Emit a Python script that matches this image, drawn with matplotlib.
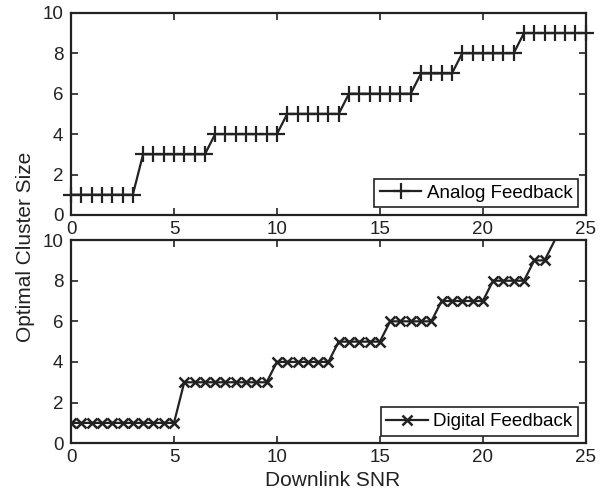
'''Optimal cluster size vs downlink SNR, analog and digital feedback.'''

import numpy as np
from matplotlib import pyplot as plt

plt.rcParams['font.family'] = ['Liberation Sans', 'DejaVu Sans']

snr_analog = np.arange(0, 25.5, 0.5)
size_analog = [1] * 7 + [3] * 7 + [4] * 7 + [5] * 6 + [6] * 7 + [7] * 4 + [8] * 6 + [9] * 7

snr_digital = np.arange(0, 24.0, 0.5)
size_digital = [1] * 11 + [3] * 9 + [4] * 6 + [5] * 5 + [6] * 5 + [7] * 5 + [8] * 4 + [9] * 2 + [10]

x_ticks = [0, 5, 10, 15, 20, 25]
y_ticks = [0, 2, 4, 6, 8, 10]


def style_axes(ax):
    ax.set_xlim(0, 25)
    ax.set_ylim(0, 10)
    ax.set_xticks(x_ticks)
    ax.set_yticks(y_ticks)
    ax.tick_params(direction='in', top=True, right=True, length=5, width=1.2,
                   labelsize=13.5, colors='#222222')
    ax.tick_params(axis='y', pad=5.5)
    ax.tick_params(axis='x', pad=4.5)
    for s in ax.spines.values():
        s.set_linewidth(1.6)
        s.set_color('#222222')


fig = plt.figure(figsize=(6.02, 4.93), dpi=100)
ax1 = fig.add_axes([0.118, 0.564, 0.855, 0.41])
ax2 = fig.add_axes([0.118, 0.101, 0.855, 0.412])

ax1.plot(snr_analog, size_analog, color='#222222', lw=1.6, marker='+',
         ms=11, mew=1.6, clip_on=False, label='Analog Feedback')
ax2.plot(snr_digital, size_digital, color='#222222', lw=1.6, marker='x',
         ms=7.5, mew=1.8, markevery=list(range(len(snr_digital) - 1)),
         label='Digital Feedback')

for ax in (ax1, ax2):
    style_axes(ax)
    leg = ax.legend(loc='lower right', fontsize=13.5, fancybox=False,
                    edgecolor='#222222', framealpha=1, borderpad=0.3,
                    handlelength=2.2, handletextpad=0.3, borderaxespad=0.4)
    leg.get_frame().set_linewidth(1.2)

fig.text(0.042, 0.5, 'Optimal Cluster Size', rotation=90, ha='center',
         va='center', fontsize=15, color='#222222')
fig.text(0.552, 0.026, 'Downlink SNR', ha='center', va='center',
         fontsize=15, color='#222222')

fig.savefig('out.png', dpi=100)
